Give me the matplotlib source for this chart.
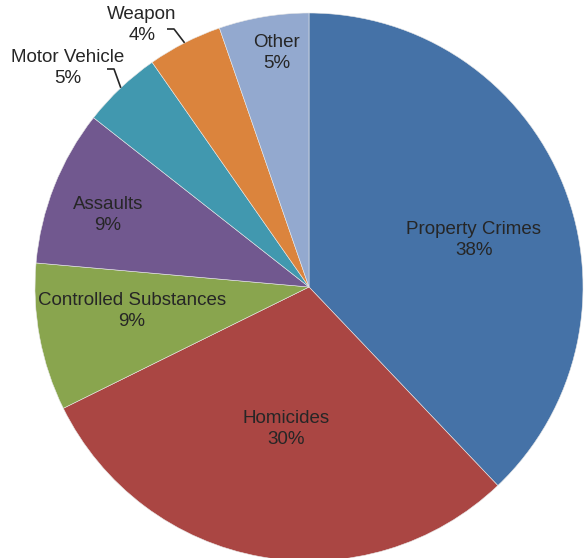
import numpy as np
import matplotlib
matplotlib.use("Agg")
import matplotlib.pyplot as plt

plt.rcParams['font.family'] = ['Liberation Sans', 'DejaVu Sans']

categories = ["Property Crimes", "Homicides", "Controlled Substances", "Assaults",
              "Motor Vehicle", "Weapon", "Other"]
shares = [37.9, 29.8, 8.7, 9.2, 4.7, 4.4, 5.3]
colors = ["#4572A7", "#AA4643", "#89A54E", "#71588F", "#4198AF", "#DB843D", "#93A9CF"]

W, H = 586, 558
fig = plt.figure(figsize=(W / 100, H / 100), dpi=100)
ax = fig.add_axes([0, 0, 1, 1])

cx, cy, R = 309, H - 287, 274
wedges, _ = ax.pie(shares, colors=colors, startangle=90, counterclock=False,
                   center=(cx, cy), radius=R,
                   wedgeprops=dict(edgecolor="#e8e8e8", linewidth=0.4))
ax.set_xlim(0, W)
ax.set_ylim(0, H)
ax.set_aspect("equal")
ax.axis("off")

# label anchor points (pixel coordinates, y measured from top)
label_pos = {
    "Property Crimes": (474, 240),
    "Homicides": (286, 429),
    "Controlled Substances": (132, 311),
    "Assaults": (108, 215),
    "Motor Vehicle": (68, 68),
    "Weapon": (142, 25),
    "Other": (277, 53),
}
txt_color = "#262626"
total = sum(shares)
for name, val in zip(categories, shares):
    x, y = label_pos[name]
    pct = round(100 * val / total)
    ax.text(x, H - y, f"{name}\n{pct}%", ha="center", va="center",
            fontsize=13.5, color=txt_color, linespacing=1.25)

# leader lines for the small outer labels
leaders = {"Motor Vehicle": (107, 69), "Weapon": (167, 29)}
for w, name in zip(wedges, categories):
    if name in leaders:
        mid = np.deg2rad((w.theta1 + w.theta2) / 2)
        ex, ey = cx + R * np.cos(mid), cy + R * np.sin(mid)
        sx, sy = leaders[name]
        ax.plot([sx, sx + 7, ex], [H - sy, H - sy, ey], color="#262626", lw=1.2,
                solid_capstyle="butt")

fig.savefig("out.png", dpi=100)
